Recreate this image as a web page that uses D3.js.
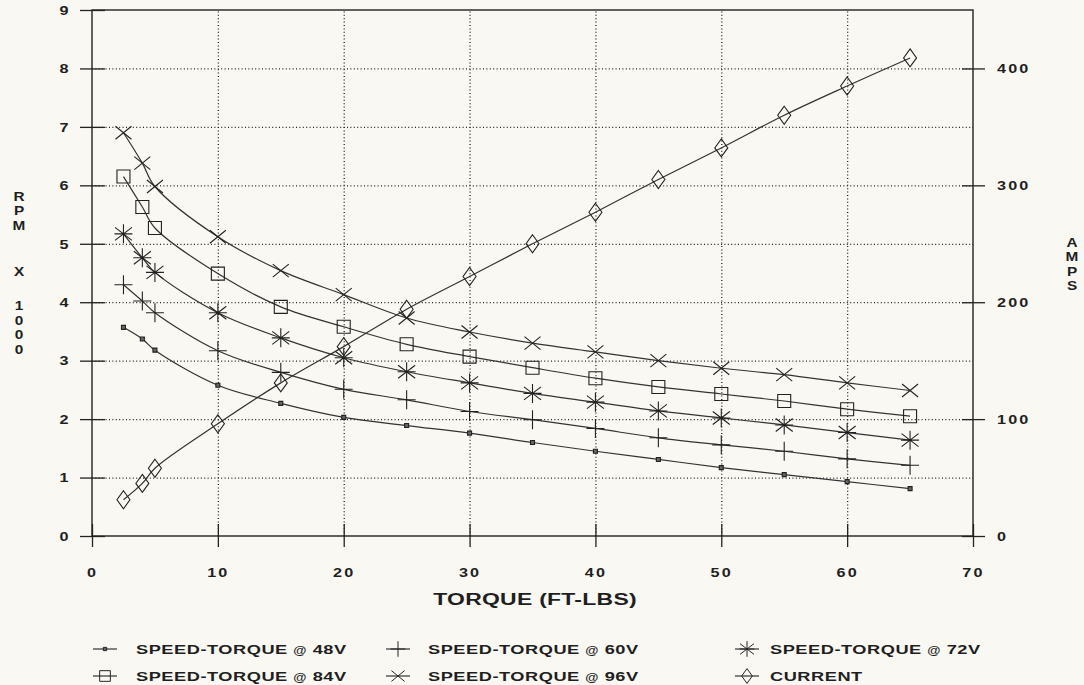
<!DOCTYPE html>
<html>
<head>
<meta charset="utf-8">
<script src="https://cdn.jsdelivr.net/npm/d3@7"></script>
<style>
  html, body { margin: 0; padding: 0; background: #f9f8f2; }
  svg { display: block; }
  text { font-family: "Liberation Sans", Arial, sans-serif; font-weight: bold; fill: #1f1f1f; }
</style>
</head>
<body>
<svg id="chart" width="1084" height="685"></svg>
<script>
// Torque (ft-lbs) at which each reading was taken
const torque = [2.5, 4, 5, 10, 15, 20, 25, 30, 35, 40, 45, 50, 55, 60, 65];

// Motor speed in RPM x 1000 at each supply voltage
const rpm48 = [3.57, 3.37, 3.18, 2.58, 2.27, 2.03, 1.89, 1.76, 1.60, 1.45, 1.31, 1.17, 1.05, 0.93, 0.81];
const rpm60 = [4.30, 4.02, 3.82, 3.17, 2.80, 2.51, 2.33, 2.13, 1.99, 1.84, 1.68, 1.56, 1.45, 1.32, 1.21];
const rpm72 = [5.17, 4.76, 4.51, 3.82, 3.39, 3.05, 2.81, 2.62, 2.44, 2.29, 2.14, 2.02, 1.90, 1.77, 1.64];
const rpm84 = [6.15, 5.63, 5.27, 4.49, 3.92, 3.58, 3.28, 3.07, 2.88, 2.70, 2.55, 2.43, 2.31, 2.17, 2.05];
const rpm96 = [6.90, 6.38, 5.98, 5.12, 4.54, 4.13, 3.73, 3.49, 3.30, 3.15, 3.00, 2.87, 2.76, 2.62, 2.49];

// Motor current in amps (right axis)
const amps = [31, 45, 58, 96, 131, 162, 194, 222, 250, 277, 305, 332, 360, 385, 409];

// Axis ticks
const xTicks = [0, 10, 20, 30, 40, 50, 60, 70];
const rpmTicks = [0, 1, 2, 3, 4, 5, 6, 7, 8, 9];
const ampTicks = [0, 100, 200, 300, 400];

// Legend labels
const legendLabels = [
  "SPEED-TORQUE @ 48V", "SPEED-TORQUE @ 60V", "SPEED-TORQUE @ 72V",
  "SPEED-TORQUE @ 84V", "SPEED-TORQUE @ 96V", "CURRENT"
];

const leftTitle = ["R", "P", "M", "X", "1", "0", "0", "0"];
const rightTitle = ["A", "M", "P", "S"];

// ---------------------------------------------------------------------------
const svg = d3.select("#chart");
const INK = "#222";
const SX = 1.35; // horizontal stretch for the wide plotter lettering

const x = d3.scaleLinear().domain([0, 70]).range([92, 973]);
const y = d3.scaleLinear().domain([0, 9]).range([536, 10]);
const yAmp = d3.scaleLinear().domain([0, 450]).range([536, 10]);

function label(g, str, px, py, size, anchor, ls, sx = SX) {
  return g.append("text")
    .attr("transform", `translate(${px},${py}) scale(${sx},1)`)
    .attr("text-anchor", anchor)
    .attr("font-size", size)
    .attr("letter-spacing", ls)
    .text(str);
}

// Marker shapes (centred on 0,0)
const markers = {
  dot:     { d: "M-2,-2h4v4h-4z", fill: "#666" },
  plus:    { d: "M-9,0H9M0,-9.5V9.5", fill: "none" },
  star:    { d: "M0,-9.5V9.5M-8.5,-6.5L8.5,6.5M-8.5,6.5L8.5,-6.5M-9,0H9", fill: "none" },
  square:  { d: "M-6.5,-6.5h13v13h-13z", fill: "none" },
  cross:   { d: "M-8,-6.5L8,6.5M-8,6.5L8,-6.5", fill: "none" },
  diamond: { d: "M0,-9L6.5,0L0,9L-6.5,0Z", fill: "none" }
};

const series = [
  { values: rpm48, marker: "dot",     scale: y },
  { values: rpm60, marker: "plus",    scale: y },
  { values: rpm72, marker: "star",    scale: y },
  { values: rpm84, marker: "square",  scale: y },
  { values: rpm96, marker: "cross",   scale: y },
  { values: amps,  marker: "diamond", scale: yAmp }
];

// Dotted grid
const grid = svg.append("g").attr("class", "grid");
grid.append("g")
  .attr("transform", `translate(0,${y(0)})`)
  .call(d3.axisBottom(x).tickValues(xTicks.slice(1, -1)).tickSize(-(y(0) - y(9))).tickFormat(""))
  .call(g => g.select(".domain").remove());
grid.append("g")
  .attr("transform", `translate(${x(0)},0)`)
  .call(d3.axisLeft(y).tickValues(rpmTicks.slice(1, -1)).tickSize(-(x(70) - x(0))).tickFormat(""))
  .call(g => g.select(".domain").remove());
grid.selectAll("line")
  .attr("stroke", "#555")
  .attr("stroke-width", 1)
  .attr("stroke-dasharray", "1,2.4");

// Frame
svg.append("rect")
  .attr("x", x(0)).attr("y", y(9))
  .attr("width", x(70) - x(0)).attr("height", y(0) - y(9))
  .attr("fill", "none").attr("stroke", INK).attr("stroke-width", 1.4);

// Bottom axis
const gx = svg.append("g")
  .attr("transform", `translate(0,${y(0)})`)
  .call(d3.axisBottom(x).tickValues(xTicks).tickSize(11).tickSizeOuter(0).tickFormat(""));
gx.select(".domain").remove();
gx.selectAll(".tick line").attr("y1", -12);
gx.selectAll(".tick").each(function (d) {
  label(d3.select(this), String(d), 0, 40.5, 12, "middle", 1.6);
});

// Left axis
const gy = svg.append("g")
  .attr("transform", `translate(${x(0)},0)`)
  .call(d3.axisLeft(y).tickValues(rpmTicks).tickSize(12).tickSizeOuter(0).tickFormat(""));
gy.select(".domain").remove();
gy.selectAll(".tick line").attr("x1", 13);
gy.selectAll(".tick").each(function (d) {
  label(d3.select(this), String(d), -28, 4.3, 12, "middle", 0);
});

// Right axis (amps)
const gr = svg.append("g")
  .attr("transform", `translate(${x(70)},0)`)
  .call(d3.axisRight(yAmp).tickValues(ampTicks).tickSize(12).tickSizeOuter(0).tickFormat(""));
gr.select(".domain").remove();
gr.selectAll(".tick line").attr("x1", -11);
gr.selectAll(".tick").each(function (d) {
  label(d3.select(this), String(d), 24, 4.3, 12, "start", 1.6);
});

svg.selectAll(".tick line").attr("stroke", INK).attr("stroke-width", 1.3);

// Axis titles (stacked letters on the sides)
label(svg, "TORQUE (FT-LBS)", 535, 605, 17, "middle", 0.2);
const leftY = [196, 210.5, 225, 271, 305.5, 320, 334.5, 349];
leftTitle.forEach((c, i) => label(svg, c, 19, leftY[i] + 4.6, 12.8, "middle", 0, 1.2));
const rightY = [242, 256.5, 271, 285.5];
rightTitle.forEach((c, i) => label(svg, c, 1072, rightY[i] + 4.6, 12.8, "middle", 0, 1.2));

// Curves and markers
const line = d3.line().curve(d3.curveCatmullRom.alpha(0.5));
const plot = svg.append("g");
series.forEach(s => {
  const pts = torque.map((t, i) => [x(t), s.scale(s.values[i])]);
  plot.append("path")
    .attr("d", line(pts))
    .attr("fill", "none")
    .attr("stroke", "#333")
    .attr("stroke-width", 1.2);
  const m = markers[s.marker];
  plot.selectAll(null).data(pts).join("path")
    .attr("transform", p => `translate(${p[0]},${p[1]})`)
    .attr("d", m.d)
    .attr("fill", m.fill)
    .attr("stroke", INK)
    .attr("stroke-width", 1.1);
});

// Legend
const legCols = [{ sym: 105, txt: 136 }, { sym: 398, txt: 428 }, { sym: 747, txt: 770 }];
const legRows = [649, 676];
const legend = svg.append("g");
series.forEach((s, i) => {
  const col = legCols[i % 3], cy = legRows[Math.floor(i / 3)];
  legend.append("line")
    .attr("x1", col.sym - 12).attr("x2", col.sym + 12)
    .attr("y1", cy).attr("y2", cy)
    .attr("stroke", "#333").attr("stroke-width", 1.2);
  const m = markers[s.marker];
  legend.append("path")
    .attr("transform", `translate(${col.sym},${cy}) scale(0.82)`)
    .attr("d", m.d)
    .attr("fill", m.fill)
    .attr("stroke", INK)
    .attr("stroke-width", 1.2);
  const parts = legendLabels[i].split("@");
  const t = label(legend, "", col.txt, cy + 5, 13.5, "start", 0.4);
  t.append("tspan").text(parts[0]);
  if (parts.length > 1) {
    t.append("tspan").attr("font-size", 10).text("@");
    t.append("tspan").text(parts[1]);
  }
});
</script>
</body>
</html>
